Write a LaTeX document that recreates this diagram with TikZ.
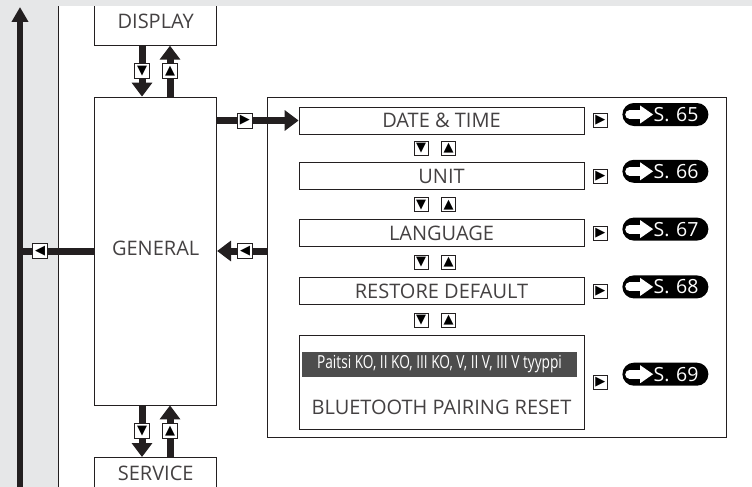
\documentclass[tikz,border=0pt]{standalone}
\usepackage{fontspec}
\setmainfont{Open Sans}
\newfontfamily\symfont{DejaVu Sans}
\usepackage{xcolor}
\usepackage{graphicx}
\usetikzlibrary{arrows.meta, positioning, calc}
\definecolor{pagegray}{HTML}{E6E7E8}
\definecolor{ink}{HTML}{231F20}
\definecolor{bannergray}{HTML}{4D4D4D}

\begin{document}
\begin{tikzpicture}[x=1pt,y=-1pt,
  menubox/.style={draw=ink,line width=0.8pt,fill=white,minimum width=122pt,inner sep=0pt,
                  font=\fontsize{20}{22}\selectfont,text=ink!85},
  itembox/.style={draw=ink,line width=0.8pt,fill=white,minimum width=285pt,minimum height=27pt,
                  inner sep=0pt,font=\fontsize{20}{22}\selectfont,text=ink!85},
  keybox/.style={draw=ink,line width=0.6pt,fill=white,minimum size=15pt,inner sep=0pt,
                 font=\symfont\fontsize{13}{13}\selectfont,text=black},
  flow/.style={draw=ink,line width=7pt,-{Triangle[length=14pt,width=20pt]}},
  bar/.style={draw=ink,line width=7pt},
  pill/.style={fill=black,rounded corners=11.5pt,minimum height=23pt,inner xsep=10pt,inner ysep=0pt,
               text width=66pt,align=right,text=white,font=\fontsize{19.5}{20}\selectfont}]
  \useasboundingbox (0,0) rectangle (752,487);
  \fill[pagegray] (0,0) rectangle (752,487);
  \fill[white] (58,6) rectangle (752,487);
  \draw[ink,line width=0.8pt] (58,6) -- (58,487);

  % menu column
  \node[menubox,minimum height=308pt,text depth=6pt] (general) at (155.7,251) {GENERAL};
  \node[menubox,anchor=south,text height=39pt,text depth=16.7pt] (display) at (155.7,45.7) {DISPLAY};
  \node[menubox,anchor=north,text height=23pt,text depth=20pt] (service) at (155.7,457) {SERVICE};
  \fill[pagegray] (0,0) rectangle (752,6);

  \coordinate (dn) at (142,0);
  \coordinate (up) at (170,0);
  \draw[flow] (display.south -| dn) -- (general.north -| dn) node[keybox,pos=0.5] (kd1) {▼};
  \draw[flow] (general.north -| up) -- (display.south -| up) node[keybox,pos=0.5] (ku1) {▲};
  \draw[flow] (general.south -| dn) -- (service.north -| dn) node[keybox,pos=0.5] (kd2) {▼};
  \draw[flow] (service.north -| up) -- (general.south -| up) node[keybox,pos=0.5] (ku2) {▲};

  % back rail
  \coordinate (railbot) at (20,490);
  \coordinate (railtop) at (20,7);
  \coordinate (railjoin) at (20,251);
  \draw[flow,line width=6.5pt,-{Triangle[length=15pt,width=16pt]}] (railbot) -- (railtop);
  \draw[bar] (general.west) -- (railjoin) node[keybox,pos=0.73] (kl1) {◀};

  % general settings
  \node[draw=ink,line width=0.8pt,fill=white,anchor=north west,minimum width=459pt,
        minimum height=340pt,inner sep=0pt] (panel) at (267,97) {};
  \node[itembox] (date) at (441.5,120.5) {DATE \& TIME};
  \node[itembox,below=28pt of date] (unit) {UNIT};
  \node[itembox,below=29pt of unit] (lang) {LANGUAGE};
  \node[itembox,below=30pt of lang] (reset) {RESTORE DEFAULT};
  \node[draw=ink,line width=0.8pt,fill=white,minimum width=285pt,minimum height=94pt,
        inner sep=0pt,below=30pt of reset] (bt) {};
  \node[fill=bannergray,minimum width=275pt,minimum height=25pt,inner sep=0pt,text=white,
        font=\fontsize{18}{20}\selectfont] (banner) at ($(bt.north)+(-2,29.5)$)
    {\scalebox{0.76}[1]{Paitsi KO, II KO, III KO, V, II V, III V tyyppi}};
  \node[font=\fontsize{20}{22}\selectfont,text=ink!85,inner sep=0pt] (bttext) at ($(bt.south)+(0,-22)$)
    {BLUETOOTH PAIRING RESET};

  \draw[flow] (general.east |- date.west) -- (date.west) node[keybox,pos=0.34] (kr0) {▶};
  \draw[flow] (panel.west |- general.east) -- (general.east) node[keybox,pos=0.44] (kl0) {◀};

  \foreach \a/\b [count=\i] in {date/unit,unit/lang,lang/reset,reset/bt} {
    \node[keybox,minimum size=14pt] (kdn\i) at ($(\a.south)!0.5!(\b.north)+(-20.5,0)$) {▼};
    \node[keybox,minimum size=14pt] (kup\i) at ($(\a.south)!0.5!(\b.north)+(7,0)$) {▲};
  }
  \foreach \r/\p/\dy in {date/65/-6,unit/66/-5,lang/67/-4,reset/68/-4,bt/69/-8} {
    \node[keybox,minimum size=14pt] (kr\p) at ($(\r.east)+(16,0)$) {▶};
    \node[pill] (ref\p) at ($(\r.east)+(81,\dy)$) {S. \p};
    \draw[white,line width=9pt,line cap=round,-{Triangle[length=13pt,width=17pt]}]
      ([xshift=7.5pt]ref\p.west) -- ([xshift=31pt]ref\p.west);
  }
\end{tikzpicture}
\end{document}
